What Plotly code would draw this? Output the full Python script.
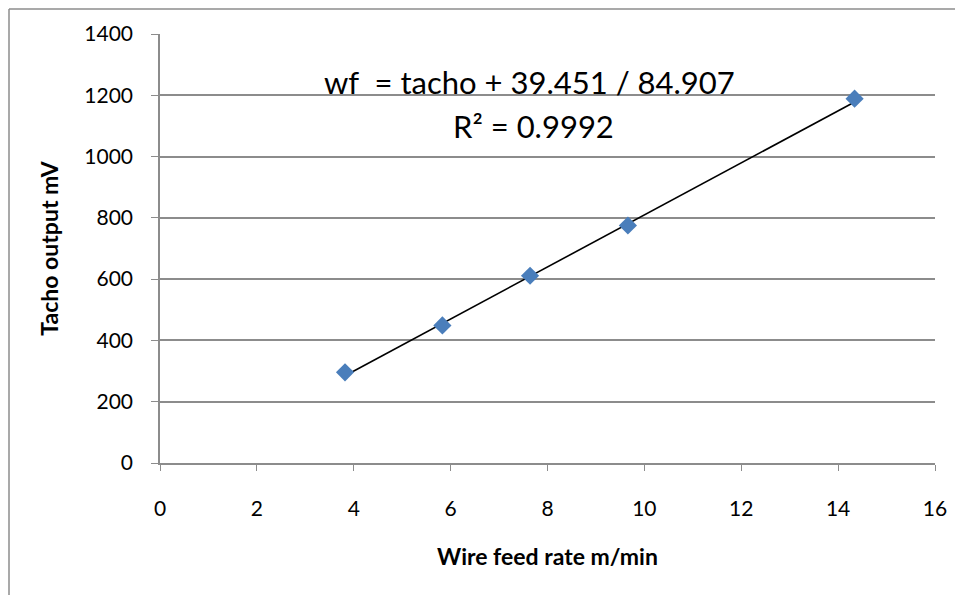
import plotly.graph_objects as go

wire_feed = [3.82, 5.83, 7.64, 9.66, 14.34]
tacho_mv = [296, 449, 611, 775, 1189]
slope = 84.907
intercept = -39.451
eq_text = "wf  = tacho + 39.451 / 84.907"
r2_text = "R² = 0.9992"
x_ticks = [0, 2, 4, 6, 8, 10, 12, 14, 16]
y_ticks = [0, 200, 400, 600, 800, 1000, 1200, 1400]

W, H = 963, 595
OFF = 8  # page body margin
# target plot area in window pixels: x 160..935, y 34..463
L, T = 160 - OFF, 34 - OFF
R = W - 935 + OFF
B = H - 463 + OFF
pw, ph = W - L - R, H - T - B

FONT = "Lato"
GRID = "#8c8c8c"

def px_x(x):
    return (x - OFF - L) / pw

def px_y(y):
    return 1 - (y - OFF - T) / ph

xmin, xmax = min(wire_feed), max(wire_feed)
trend_x = [xmin, xmax]
trend_y = [slope * v + intercept for v in trend_x]

fig = go.Figure()
fig.add_trace(go.Scatter(x=trend_x, y=trend_y, mode="lines",
                         line=dict(color="black", width=1.6), showlegend=False,
                         hoverinfo="skip"))
fig.add_trace(go.Scatter(x=wire_feed, y=tacho_mv, mode="markers",
                         marker=dict(symbol="diamond", size=14, color="#4a7ebb",
                                     line=dict(width=0)),
                         showlegend=False))

fig.add_annotation(x=px_x(529), y=px_y(82), xref="paper", yref="paper",
                   text=eq_text, showarrow=False, xanchor="center", yanchor="middle",
                   font=dict(family=FONT, size=31, color="black"))
fig.add_annotation(x=px_x(533), y=px_y(126), xref="paper", yref="paper",
                   text=r2_text, showarrow=False, xanchor="center", yanchor="middle",
                   font=dict(family=FONT, size=31, color="black"))

# outer chart border (top and left visible), at the figure's top-left edge
bx = px_x(OFF + 1)
by = px_y(OFF + 1)
fig.add_shape(type="line", xref="paper", yref="paper", x0=bx, x1=1.3, y0=by, y1=by,
              line=dict(color="#8c8c8c", width=1.5))
fig.add_shape(type="line", xref="paper", yref="paper", x0=bx, x1=bx, y0=by, y1=-0.6,
              line=dict(color="#8c8c8c", width=1.5))

fig.update_layout(
    width=W, height=H,
    margin=dict(l=L, r=R, t=T, b=B),
    paper_bgcolor="white", plot_bgcolor="white",
    font=dict(family=FONT, size=21, color="black"),
    xaxis=dict(range=[0, 16], tickvals=x_ticks, ticks="outside", ticklen=6,
               tickcolor=GRID, showgrid=False, showline=True, linecolor=GRID,
               linewidth=1.5, zeroline=False, ticklabelstandoff=20,
               tickfont=dict(family=FONT, size=21),
               title=dict(text="<b>Wire feed rate m/min</b>", standoff=30,
                          font=dict(family=FONT, size=23))),
    yaxis=dict(range=[0, 1400], tickvals=y_ticks, ticks="outside", ticklen=7,
               tickcolor=GRID, showgrid=True, gridcolor=GRID, gridwidth=1.5,
               showline=True, linecolor=GRID, linewidth=1.5, zeroline=False,
               ticklabelstandoff=14,
               tickfont=dict(family=FONT, size=21),
               title=dict(text="<b>Tacho output mV</b>", standoff=19,
                          font=dict(family=FONT, size=23))),
)

fig.write_html("out.html")
